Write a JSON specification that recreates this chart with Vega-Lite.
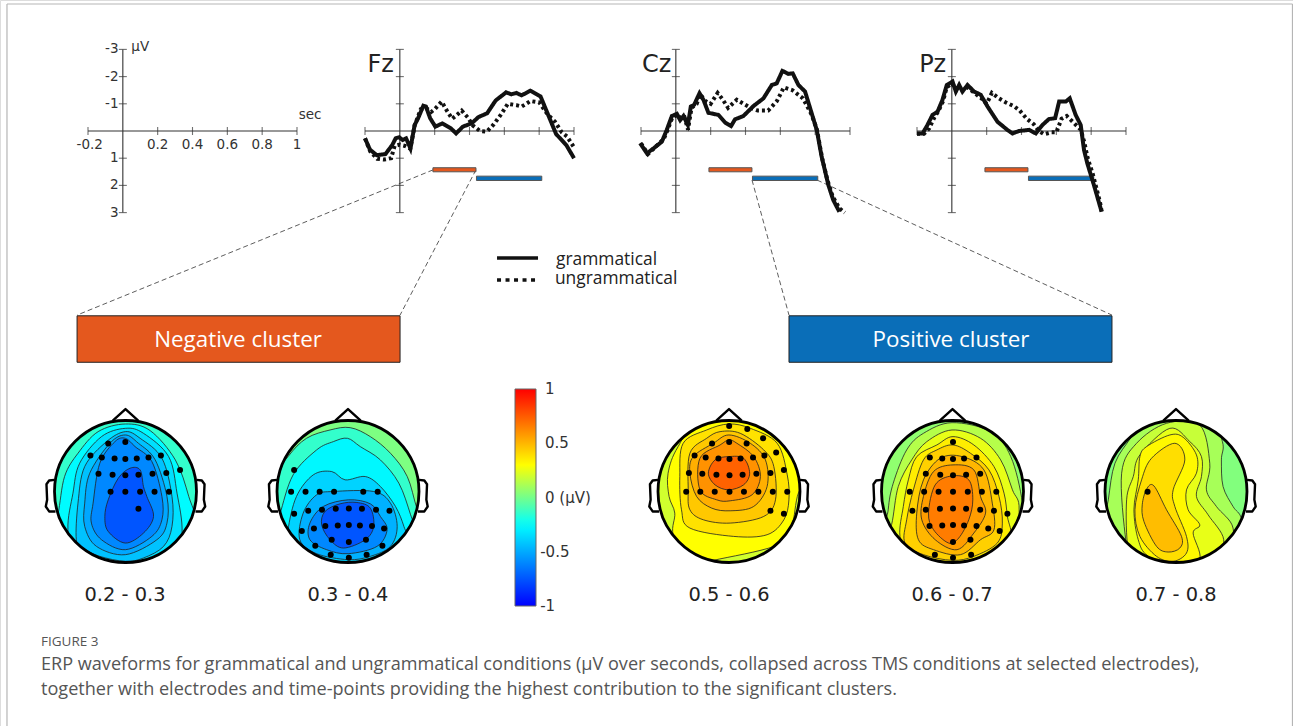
{"$schema":"https://vega.github.io/schema/vega-lite/v6.json","width":1293,"height":726,"padding":0,"autosize":{"type":"none"},"background":"white","resolve":{"scale":{"x":"independent","y":"independent"}},
"datasets":{
"frame":[{"id":"left","x":0.54,"y":0.55},{"id":"left","x":0.54,"y":100},{"id":"top","x":0.54,"y":0.55},{"id":"top","x":99.96,"y":0.55},{"id":"right","x":99.96,"y":0.55},{"id":"right","x":99.96,"y":100}],
"conn":[{"id":"a","x":33.49,"y":23.4},{"id":"a","x":5.96,"y":43.4},{"id":"b","x":36.81,"y":23.4},{"id":"b","x":30.94,"y":43.4},{"id":"c","x":58.16,"y":24.8},{"id":"c","x":61.02,"y":43.4},{"id":"d","x":63.19,"y":24.8},{"id":"d","x":86.0,"y":43.4}],
"boxes":[{"k":"negative","x":5.96,"x2":30.94,"y":43.5,"y2":49.9},{"k":"positive","x":61.02,"x2":86.0,"y":43.5,"y2":49.9}],
"boxText":[{"x":18.41,"y":46.83,"text":"Negative cluster"},{"x":73.55,"y":46.83,"text":"Positive cluster"}],
"keyG":[{"x":38.44,"y":35.54},{"x":41.61,"y":35.54}],
"keyU":[{"x":38.44,"y":38.57},{"x":41.61,"y":38.57}],
"keyText":[{"x":43.0,"y":35.8,"text":"grammatical"},{"x":42.92,"y":38.4,"text":"ungrammatical"}],
"times":[{"x":9.67,"y":81.96,"text":"0.2 - 0.3"},{"x":26.91,"y":81.96,"text":"0.3 - 0.4"},{"x":56.38,"y":81.96,"text":"0.5 - 0.6"},{"x":73.63,"y":81.96,"text":"0.6 - 0.7"},{"x":90.95,"y":81.96,"text":"0.7 - 0.8"}],
"capHead":[{"x":3.17,"y":88.43,"text":"FIGURE 3"}],
"cap":[{"x":3.17,"y":91.55,"text":"ERP waveforms for grammatical and ungrammatical conditions (µV over seconds, collapsed across TMS conditions at selected electrodes),"},{"x":3.17,"y":95.0,"text":"together with electrodes and time-points providing the highest contribution to the significant clusters."}],
"cbarL":[{"p":1.43,"val":1,"text":"1"},{"p":1.43,"val":0.5,"text":"0.5"},{"p":1.43,"val":0,"text":"0 (µV)"},{"p":1.2,"val":-0.5,"text":"-0.5"},{"p":1.2,"val":-1,"text":"-1"}],
"cbarT":[{"id":"a","p":0.7,"val":0.5},{"id":"a","p":1,"val":0.5},{"id":"b","p":0.7,"val":0},{"id":"b","p":1,"val":0},{"id":"c","p":0.7,"val":-0.5},{"id":"c","p":1,"val":-0.5}],
"axisLines":[{"a":"x","t":-0.2,"u":0},{"a":"x","t":1,"u":0},{"a":"y","t":0,"u":-3},{"a":"y","t":0,"u":3}],
"xticks":[{"t":-0.2,"u":0},{"t":0.2,"u":0},{"t":0.4,"u":0},{"t":0.6,"u":0},{"t":0.8,"u":0},{"t":1,"u":0}],
"yticks":[{"t":0,"u":-3},{"t":0,"u":-2},{"t":0,"u":-1},{"t":0,"u":1},{"t":0,"u":2},{"t":0,"u":3}],
"keyX":[{"t":-0.19,"u":0.51,"text":"-0.2"},{"t":0.2,"u":0.51,"text":"0.2"},{"t":0.4,"u":0.51,"text":"0.4"},{"t":0.6,"u":0.51,"text":"0.6"},{"t":0.8,"u":0.51,"text":"0.8"},{"t":1,"u":0.51,"text":"1"},{"t":1.075,"u":-0.59,"text":"sec"},{"t":0.1,"u":-3.09,"text":"µV"}],
"keyY":[{"t":-0.025,"u":-3,"text":"-3"},{"t":-0.025,"u":-2,"text":"-2"},{"t":-0.025,"u":-1,"text":"-1"},{"t":-0.025,"u":1,"text":"1"},{"t":-0.025,"u":2,"text":"2"},{"t":-0.025,"u":3,"text":"3"}],
"names":[{"e":"Fz","t":-0.11,"u":-2.43,"text":"Fz"},{"e":"Cz","t":-0.11,"u":-2.43,"text":"Cz"},{"e":"Pz","t":-0.11,"u":-2.43,"text":"Pz"}],
"bars":[{"k":"negative","t":0.19,"t2":0.437,"u":1.35,"u2":1.5},{"k":"positive","t":0.44,"t2":0.815,"u":1.66,"u2":1.82}],
"fz":[
{"cond":"ungram","t":-0.2,"u":0.27},{"cond":"ungram","t":-0.17,"u":0.75},{"cond":"ungram","t":-0.13,"u":1.02},{"cond":"ungram","t":-0.09,"u":1.05},{"cond":"ungram","t":-0.05,"u":1.0},{"cond":"ungram","t":-0.03,"u":0.55},{"cond":"ungram","t":0,"u":0.5},{"cond":"ungram","t":0.03,"u":0.55},{"cond":"ungram","t":0.06,"u":0.65},{"cond":"ungram","t":0.085,"u":-0.2},{"cond":"ungram","t":0.12,"u":-0.8},{"cond":"ungram","t":0.15,"u":-0.85},{"cond":"ungram","t":0.18,"u":-0.7},{"cond":"ungram","t":0.2,"u":-0.8},{"cond":"ungram","t":0.24,"u":-1.08},{"cond":"ungram","t":0.27,"u":-0.75},{"cond":"ungram","t":0.3,"u":-0.45},{"cond":"ungram","t":0.32,"u":-0.55},{"cond":"ungram","t":0.355,"u":-0.75},{"cond":"ungram","t":0.39,"u":-0.5},{"cond":"ungram","t":0.42,"u":-0.2},{"cond":"ungram","t":0.46,"u":0},{"cond":"ungram","t":0.5,"u":0.02},{"cond":"ungram","t":0.54,"u":-0.25},{"cond":"ungram","t":0.58,"u":-0.6},{"cond":"ungram","t":0.62,"u":-1.0},{"cond":"ungram","t":0.67,"u":-0.95},{"cond":"ungram","t":0.7,"u":-0.9},{"cond":"ungram","t":0.75,"u":-1.1},{"cond":"ungram","t":0.8,"u":-1.05},{"cond":"ungram","t":0.85,"u":-0.6},{"cond":"ungram","t":0.89,"u":-0.35},{"cond":"ungram","t":0.93,"u":0.05},{"cond":"ungram","t":0.96,"u":0.2},{"cond":"ungram","t":1,"u":0.6},
{"cond":"gram","t":-0.2,"u":0.27},{"cond":"gram","t":-0.172,"u":0.68},{"cond":"gram","t":-0.133,"u":0.89},{"cond":"gram","t":-0.083,"u":0.85},{"cond":"gram","t":-0.044,"u":0.52},{"cond":"gram","t":-0.024,"u":0.27},{"cond":"gram","t":-0.004,"u":0.23},{"cond":"gram","t":0.016,"u":0.33},{"cond":"gram","t":0.036,"u":0.27},{"cond":"gram","t":0.061,"u":0.64},{"cond":"gram","t":0.085,"u":-0.22},{"cond":"gram","t":0.105,"u":-0.47},{"cond":"gram","t":0.135,"u":-0.93},{"cond":"gram","t":0.15,"u":-0.9},{"cond":"gram","t":0.174,"u":-0.47},{"cond":"gram","t":0.204,"u":-0.16},{"cond":"gram","t":0.244,"u":-0.28},{"cond":"gram","t":0.293,"u":-0.1},{"cond":"gram","t":0.323,"u":0.09},{"cond":"gram","t":0.362,"u":-0.16},{"cond":"gram","t":0.412,"u":-0.28},{"cond":"gram","t":0.451,"u":-0.51},{"cond":"gram","t":0.501,"u":-0.65},{"cond":"gram","t":0.55,"u":-1.12},{"cond":"gram","t":0.61,"u":-1.42},{"cond":"gram","t":0.64,"u":-1.35},{"cond":"gram","t":0.669,"u":-1.4},{"cond":"gram","t":0.699,"u":-1.31},{"cond":"gram","t":0.749,"u":-1.48},{"cond":"gram","t":0.808,"u":-1.27},{"cond":"gram","t":0.848,"u":-0.65},{"cond":"gram","t":0.897,"u":0.11},{"cond":"gram","t":0.956,"u":0.52},{"cond":"gram","t":1,"u":1.0}],
"cz":[
{"cond":"ungram","t":-0.2,"u":0.45},{"cond":"ungram","t":-0.16,"u":0.85},{"cond":"ungram","t":-0.12,"u":0.6},{"cond":"ungram","t":-0.07,"u":0.3},{"cond":"ungram","t":-0.05,"u":0},{"cond":"ungram","t":-0.02,"u":-0.5},{"cond":"ungram","t":0.01,"u":-0.6},{"cond":"ungram","t":0.03,"u":-0.45},{"cond":"ungram","t":0.05,"u":-0.5},{"cond":"ungram","t":0.07,"u":-0.05},{"cond":"ungram","t":0.09,"u":-0.85},{"cond":"ungram","t":0.12,"u":-1.0},{"cond":"ungram","t":0.14,"u":-1.35},{"cond":"ungram","t":0.17,"u":-1.1},{"cond":"ungram","t":0.2,"u":-1.0},{"cond":"ungram","t":0.24,"u":-1.4},{"cond":"ungram","t":0.27,"u":-1.15},{"cond":"ungram","t":0.3,"u":-0.85},{"cond":"ungram","t":0.35,"u":-1.15},{"cond":"ungram","t":0.39,"u":-1.0},{"cond":"ungram","t":0.43,"u":-0.85},{"cond":"ungram","t":0.47,"u":-0.75},{"cond":"ungram","t":0.53,"u":-0.75},{"cond":"ungram","t":0.58,"u":-1.1},{"cond":"ungram","t":0.62,"u":-1.6},{"cond":"ungram","t":0.67,"u":-1.5},{"cond":"ungram","t":0.73,"u":-1.2},{"cond":"ungram","t":0.78,"u":-0.6},{"cond":"ungram","t":0.81,"u":-0.05},{"cond":"ungram","t":0.84,"u":1.0},{"cond":"ungram","t":0.87,"u":1.8},{"cond":"ungram","t":0.9,"u":2.4},{"cond":"ungram","t":0.94,"u":2.85},{"cond":"ungram","t":0.97,"u":3.0},
{"cond":"gram","t":-0.205,"u":0.45},{"cond":"gram","t":-0.166,"u":0.82},{"cond":"gram","t":-0.128,"u":0.64},{"cond":"gram","t":-0.08,"u":0.39},{"cond":"gram","t":-0.052,"u":-0.04},{"cond":"gram","t":-0.023,"u":-0.55},{"cond":"gram","t":0.006,"u":-0.63},{"cond":"gram","t":0.025,"u":-0.4},{"cond":"gram","t":0.044,"u":-0.55},{"cond":"gram","t":0.069,"u":-0.22},{"cond":"gram","t":0.086,"u":-0.9},{"cond":"gram","t":0.105,"u":-0.96},{"cond":"gram","t":0.136,"u":-1.39},{"cond":"gram","t":0.159,"u":-1.14},{"cond":"gram","t":0.187,"u":-0.67},{"cond":"gram","t":0.245,"u":-0.59},{"cond":"gram","t":0.283,"u":-0.31},{"cond":"gram","t":0.317,"u":-0.18},{"cond":"gram","t":0.34,"u":-0.43},{"cond":"gram","t":0.388,"u":-0.55},{"cond":"gram","t":0.446,"u":-0.92},{"cond":"gram","t":0.503,"u":-1.2},{"cond":"gram","t":0.551,"u":-1.69},{"cond":"gram","t":0.579,"u":-1.75},{"cond":"gram","t":0.612,"u":-2.21},{"cond":"gram","t":0.646,"u":-2.1},{"cond":"gram","t":0.671,"u":-2.12},{"cond":"gram","t":0.704,"u":-1.69},{"cond":"gram","t":0.742,"u":-1.45},{"cond":"gram","t":0.78,"u":-0.65},{"cond":"gram","t":0.809,"u":-0.04},{"cond":"gram","t":0.837,"u":0.94},{"cond":"gram","t":0.876,"u":1.99},{"cond":"gram","t":0.904,"u":2.54},{"cond":"gram","t":0.939,"u":2.97}],
"pz":[
{"cond":"ungram","t":-0.2,"u":0.1},{"cond":"ungram","t":-0.16,"u":0.1},{"cond":"ungram","t":-0.13,"u":-0.1},{"cond":"ungram","t":-0.1,"u":-0.5},{"cond":"ungram","t":-0.08,"u":-0.7},{"cond":"ungram","t":-0.05,"u":-1.1},{"cond":"ungram","t":-0.03,"u":-1.6},{"cond":"ungram","t":0,"u":-1.75},{"cond":"ungram","t":0.03,"u":-1.5},{"cond":"ungram","t":0.06,"u":-1.5},{"cond":"ungram","t":0.09,"u":-1.6},{"cond":"ungram","t":0.13,"u":-1.4},{"cond":"ungram","t":0.17,"u":-1.2},{"cond":"ungram","t":0.2,"u":-1.0},{"cond":"ungram","t":0.23,"u":-1.4},{"cond":"ungram","t":0.27,"u":-1.2},{"cond":"ungram","t":0.31,"u":-1.05},{"cond":"ungram","t":0.36,"u":-0.9},{"cond":"ungram","t":0.39,"u":-0.75},{"cond":"ungram","t":0.43,"u":-0.45},{"cond":"ungram","t":0.47,"u":-0.25},{"cond":"ungram","t":0.5,"u":0},{"cond":"ungram","t":0.53,"u":0.12},{"cond":"ungram","t":0.57,"u":0.05},{"cond":"ungram","t":0.6,"u":0.05},{"cond":"ungram","t":0.63,"u":-0.45},{"cond":"ungram","t":0.66,"u":-0.55},{"cond":"ungram","t":0.7,"u":-0.3},{"cond":"ungram","t":0.74,"u":-0.05},{"cond":"ungram","t":0.76,"u":0.4},{"cond":"ungram","t":0.78,"u":1.0},{"cond":"ungram","t":0.81,"u":1.6},{"cond":"ungram","t":0.85,"u":2.6},{"cond":"ungram","t":0.86,"u":2.95},
{"cond":"gram","t":-0.2,"u":0.09},{"cond":"gram","t":-0.168,"u":0.09},{"cond":"gram","t":-0.14,"u":-0.22},{"cond":"gram","t":-0.111,"u":-0.59},{"cond":"gram","t":-0.082,"u":-0.71},{"cond":"gram","t":-0.054,"u":-1.14},{"cond":"gram","t":-0.029,"u":-1.69},{"cond":"gram","t":0.004,"u":-1.82},{"cond":"gram","t":0.023,"u":-1.45},{"cond":"gram","t":0.042,"u":-1.69},{"cond":"gram","t":0.061,"u":-1.45},{"cond":"gram","t":0.09,"u":-1.69},{"cond":"gram","t":0.128,"u":-1.45},{"cond":"gram","t":0.166,"u":-1.33},{"cond":"gram","t":0.205,"u":-0.9},{"cond":"gram","t":0.262,"u":-0.34},{"cond":"gram","t":0.319,"u":-0.04},{"cond":"gram","t":0.348,"u":0.09},{"cond":"gram","t":0.386,"u":0},{"cond":"gram","t":0.444,"u":-0.04},{"cond":"gram","t":0.482,"u":0.09},{"cond":"gram","t":0.52,"u":-0.22},{"cond":"gram","t":0.558,"u":-0.44},{"cond":"gram","t":0.593,"u":-0.47},{"cond":"gram","t":0.616,"u":-1.08},{"cond":"gram","t":0.654,"u":-1.08},{"cond":"gram","t":0.677,"u":-1.2},{"cond":"gram","t":0.711,"u":-0.59},{"cond":"gram","t":0.74,"u":-0.22},{"cond":"gram","t":0.759,"u":0.7},{"cond":"gram","t":0.778,"u":1.19},{"cond":"gram","t":0.816,"u":1.99},{"cond":"gram","t":0.86,"u":2.97}],
"headC":[{"dx":0,"dy":0}],
"headP":[{"p":"nose","dx":-38,"dy":-213},{"p":"nose","dx":0,"dy":-248},{"p":"nose","dx":38,"dy":-213},
{"p":"earL","dx":-212,"dy":-35},{"p":"earL","dx":-228,"dy":-33},{"p":"earL","dx":-236,"dy":-22},{"p":"earL","dx":-234,"dy":25},{"p":"earL","dx":-238,"dy":45},{"p":"earL","dx":-228,"dy":60},{"p":"earL","dx":-209,"dy":60},
{"p":"earR","dx":212,"dy":-35},{"p":"earR","dx":228,"dy":-33},{"p":"earR","dx":236,"dy":-22},{"p":"earR","dx":234,"dy":25},{"p":"earR","dx":238,"dy":45},{"p":"earR","dx":228,"dy":60},{"p":"earR","dx":209,"dy":60}],
"m1":[
{"c":"0","v":-0.14,"x":16,"y":275},{"c":"0","v":-0.14,"x":86,"y":105},{"c":"0","v":-0.14,"x":256,"y":35},{"c":"0","v":-0.14,"x":426,"y":105},{"c":"0","v":-0.14,"x":496,"y":275},{"c":"0","v":-0.14,"x":426,"y":445},{"c":"0","v":-0.14,"x":256,"y":515},{"c":"0","v":-0.14,"x":86,"y":445},
{"c":"1","v":-0.26,"x":55,"y":345},{"c":"1","v":-0.26,"x":75,"y":230},{"c":"1","v":-0.26,"x":115,"y":160},{"c":"1","v":-0.26,"x":175,"y":95},{"c":"1","v":-0.26,"x":256,"y":72},{"c":"1","v":-0.26,"x":330,"y":92},{"c":"1","v":-0.26,"x":405,"y":180},{"c":"1","v":-0.26,"x":445,"y":290},{"c":"1","v":-0.26,"x":470,"y":400},{"c":"1","v":-0.26,"x":400,"y":540},{"c":"1","v":-0.26,"x":256,"y":560},{"c":"1","v":-0.26,"x":90,"y":520},{"c":"1","v":-0.26,"x":30,"y":430},
{"c":"2","v":-0.34,"x":85,"y":390},{"c":"2","v":-0.34,"x":100,"y":280},{"c":"2","v":-0.34,"x":120,"y":190},{"c":"2","v":-0.34,"x":185,"y":110},{"c":"2","v":-0.34,"x":256,"y":85},{"c":"2","v":-0.34,"x":310,"y":100},{"c":"2","v":-0.34,"x":385,"y":170},{"c":"2","v":-0.34,"x":410,"y":280},{"c":"2","v":-0.34,"x":425,"y":400},{"c":"2","v":-0.34,"x":400,"y":520},{"c":"2","v":-0.34,"x":256,"y":545},{"c":"2","v":-0.34,"x":110,"y":510},
{"c":"3","v":-0.43,"x":110,"y":420},{"c":"3","v":-0.43,"x":115,"y":310},{"c":"3","v":-0.43,"x":135,"y":200},{"c":"3","v":-0.43,"x":200,"y":125},{"c":"3","v":-0.43,"x":256,"y":95},{"c":"3","v":-0.43,"x":300,"y":115},{"c":"3","v":-0.43,"x":365,"y":175},{"c":"3","v":-0.43,"x":395,"y":290},{"c":"3","v":-0.43,"x":395,"y":380},{"c":"3","v":-0.43,"x":370,"y":440},{"c":"3","v":-0.43,"x":310,"y":475},{"c":"3","v":-0.43,"x":256,"y":485},{"c":"3","v":-0.43,"x":180,"y":470},{"c":"3","v":-0.43,"x":130,"y":445},
{"c":"4","v":-0.51,"x":135,"y":380},{"c":"4","v":-0.51,"x":135,"y":310},{"c":"4","v":-0.51,"x":150,"y":220},{"c":"4","v":-0.51,"x":210,"y":130},{"c":"4","v":-0.51,"x":256,"y":105},{"c":"4","v":-0.51,"x":295,"y":130},{"c":"4","v":-0.51,"x":345,"y":180},{"c":"4","v":-0.51,"x":380,"y":290},{"c":"4","v":-0.51,"x":380,"y":370},{"c":"4","v":-0.51,"x":350,"y":420},{"c":"4","v":-0.51,"x":256,"y":465},{"c":"4","v":-0.51,"x":170,"y":440},
{"c":"5","v":-0.6,"x":155,"y":370},{"c":"5","v":-0.6,"x":160,"y":310},{"c":"5","v":-0.6,"x":180,"y":190},{"c":"5","v":-0.6,"x":225,"y":125},{"c":"5","v":-0.6,"x":256,"y":115},{"c":"5","v":-0.6,"x":285,"y":140},{"c":"5","v":-0.6,"x":335,"y":185},{"c":"5","v":-0.6,"x":365,"y":290},{"c":"5","v":-0.6,"x":365,"y":360},{"c":"5","v":-0.6,"x":335,"y":410},{"c":"5","v":-0.6,"x":256,"y":450},{"c":"5","v":-0.6,"x":185,"y":420},
{"c":"6","v":-0.75,"x":235,"y":235},{"c":"6","v":-0.75,"x":270,"y":205},{"c":"6","v":-0.75,"x":300,"y":210},{"c":"6","v":-0.75,"x":310,"y":260},{"c":"6","v":-0.75,"x":320,"y":290},{"c":"6","v":-0.75,"x":340,"y":350},{"c":"6","v":-0.75,"x":310,"y":400},{"c":"6","v":-0.75,"x":256,"y":430},{"c":"6","v":-0.75,"x":205,"y":395},{"c":"6","v":-0.75,"x":195,"y":350},{"c":"6","v":-0.75,"x":205,"y":300}],
"e1":[{"x":205,"y":131},{"x":256,"y":126},{"x":152,"y":167},{"x":186,"y":173},{"x":224,"y":176},{"x":256,"y":177},{"x":290,"y":176},{"x":325,"y":173},{"x":362,"y":167},{"x":176,"y":222},{"x":218,"y":225},{"x":256,"y":226},{"x":295,"y":225},{"x":337,"y":222},{"x":378,"y":219},{"x":419,"y":210},{"x":212,"y":276},{"x":256,"y":276},{"x":300,"y":276},{"x":343,"y":276},{"x":386,"y":276},{"x":295,"y":327}],
"m2":[
{"c":"0","v":0.02,"x":683,"y":275},{"c":"0","v":0.02,"x":753,"y":105},{"c":"0","v":0.02,"x":923,"y":35},{"c":"0","v":0.02,"x":1093,"y":105},{"c":"0","v":0.02,"x":1163,"y":275},{"c":"0","v":0.02,"x":1093,"y":445},{"c":"0","v":0.02,"x":923,"y":515},{"c":"0","v":0.02,"x":753,"y":445},
{"c":"1","v":-0.14,"x":745,"y":170},{"c":"1","v":-0.14,"x":800,"y":115},{"c":"1","v":-0.14,"x":870,"y":90},{"c":"1","v":-0.14,"x":930,"y":83},{"c":"1","v":-0.14,"x":990,"y":110},{"c":"1","v":-0.14,"x":1050,"y":160},{"c":"1","v":-0.14,"x":1100,"y":230},{"c":"1","v":-0.14,"x":1130,"y":330},{"c":"1","v":-0.14,"x":1170,"y":440},{"c":"1","v":-0.14,"x":924,"y":545},{"c":"1","v":-0.14,"x":700,"y":420},{"c":"1","v":-0.14,"x":690,"y":260},
{"c":"2","v":-0.27,"x":720,"y":345},{"c":"2","v":-0.27,"x":760,"y":225},{"c":"2","v":-0.27,"x":830,"y":150},{"c":"2","v":-0.27,"x":880,"y":125},{"c":"2","v":-0.27,"x":922,"y":115},{"c":"2","v":-0.27,"x":960,"y":140},{"c":"2","v":-0.27,"x":1020,"y":180},{"c":"2","v":-0.27,"x":1075,"y":250},{"c":"2","v":-0.27,"x":1110,"y":345},{"c":"2","v":-0.27,"x":1130,"y":420},{"c":"2","v":-0.27,"x":1090,"y":510},{"c":"2","v":-0.27,"x":924,"y":550},{"c":"2","v":-0.27,"x":740,"y":490},{"c":"2","v":-0.27,"x":700,"y":410},
{"c":"3","v":-0.38,"x":745,"y":390},{"c":"3","v":-0.38,"x":770,"y":290},{"c":"3","v":-0.38,"x":820,"y":225},{"c":"3","v":-0.38,"x":875,"y":215},{"c":"3","v":-0.38,"x":915,"y":240},{"c":"3","v":-0.38,"x":975,"y":230},{"c":"3","v":-0.38,"x":1020,"y":260},{"c":"3","v":-0.38,"x":1065,"y":320},{"c":"3","v":-0.38,"x":1090,"y":380},{"c":"3","v":-0.38,"x":1100,"y":430},{"c":"3","v":-0.38,"x":1040,"y":500},{"c":"3","v":-0.38,"x":924,"y":530},{"c":"3","v":-0.38,"x":800,"y":500},{"c":"3","v":-0.38,"x":750,"y":440},
{"c":"4","v":-0.48,"x":780,"y":420},{"c":"4","v":-0.48,"x":790,"y":340},{"c":"4","v":-0.48,"x":830,"y":285},{"c":"4","v":-0.48,"x":880,"y":275},{"c":"4","v":-0.48,"x":1000,"y":275},{"c":"4","v":-0.48,"x":1050,"y":310},{"c":"4","v":-0.48,"x":1070,"y":380},{"c":"4","v":-0.48,"x":1050,"y":440},{"c":"4","v":-0.48,"x":990,"y":470},{"c":"4","v":-0.48,"x":924,"y":480},{"c":"4","v":-0.48,"x":830,"y":462},
{"c":"5","v":-0.6,"x":810,"y":420},{"c":"5","v":-0.6,"x":810,"y":370},{"c":"5","v":-0.6,"x":850,"y":320},{"c":"5","v":-0.6,"x":925,"y":300},{"c":"5","v":-0.6,"x":990,"y":312},{"c":"5","v":-0.6,"x":1020,"y":350},{"c":"5","v":-0.6,"x":1040,"y":390},{"c":"5","v":-0.6,"x":1010,"y":440},{"c":"5","v":-0.6,"x":924,"y":462},{"c":"5","v":-0.6,"x":860,"y":450},
{"c":"6","v":-0.75,"x":845,"y":375},{"c":"6","v":-0.75,"x":855,"y":335},{"c":"6","v":-0.75,"x":900,"y":312},{"c":"6","v":-0.75,"x":950,"y":308},{"c":"6","v":-0.75,"x":990,"y":325},{"c":"6","v":-0.75,"x":1000,"y":380},{"c":"6","v":-0.75,"x":975,"y":420},{"c":"6","v":-0.75,"x":910,"y":445},{"c":"6","v":-0.75,"x":870,"y":420}],
"e2":[{"x":763,"y":210},{"x":754,"y":276},{"x":797,"y":276},{"x":839,"y":276},{"x":882,"y":276},{"x":969,"y":276},{"x":1012,"y":276},{"x":763,"y":342},{"x":805,"y":333},{"x":846,"y":330},{"x":887,"y":327},{"x":926,"y":326},{"x":965,"y":327},{"x":1007,"y":330},{"x":1047,"y":333},{"x":786,"y":394},{"x":822,"y":386},{"x":856,"y":379},{"x":893,"y":377},{"x":926,"y":376},{"x":959,"y":377},{"x":995,"y":379},{"x":1031,"y":386},{"x":875,"y":420},{"x":926,"y":427},{"x":977,"y":420},{"x":826,"y":438},{"x":1026,"y":438},{"x":872,"y":465},{"x":926,"y":474},{"x":979,"y":465}],
"m3":[
{"c":"0","v":0.2,"x":26,"y":275},{"c":"0","v":0.2,"x":96,"y":105},{"c":"0","v":0.2,"x":266,"y":35},{"c":"0","v":0.2,"x":436,"y":105},{"c":"0","v":0.2,"x":506,"y":275},{"c":"0","v":0.2,"x":436,"y":445},{"c":"0","v":0.2,"x":266,"y":515},{"c":"0","v":0.2,"x":96,"y":445},
{"c":"1","v":0.3,"x":115,"y":140},{"c":"1","v":0.3,"x":85,"y":220},{"c":"1","v":0.3,"x":88,"y":290},{"c":"1","v":0.3,"x":105,"y":340},{"c":"1","v":0.3,"x":100,"y":405},{"c":"1","v":0.3,"x":140,"y":500},{"c":"1","v":0.3,"x":220,"y":482},{"c":"1","v":0.3,"x":400,"y":440},{"c":"1","v":0.3,"x":450,"y":390},{"c":"1","v":0.3,"x":470,"y":290},{"c":"1","v":0.3,"x":500,"y":180},{"c":"1","v":0.3,"x":400,"y":30},{"c":"1","v":0.3,"x":200,"y":30},
{"c":"2","v":0.38,"x":200,"y":90},{"c":"2","v":0.38,"x":130,"y":130},{"c":"2","v":0.38,"x":120,"y":230},{"c":"2","v":0.38,"x":125,"y":330},{"c":"2","v":0.38,"x":150,"y":385},{"c":"2","v":0.38,"x":280,"y":410},{"c":"2","v":0.38,"x":380,"y":405},{"c":"2","v":0.38,"x":430,"y":360},{"c":"2","v":0.38,"x":445,"y":300},{"c":"2","v":0.38,"x":440,"y":225},{"c":"2","v":0.38,"x":410,"y":130},{"c":"2","v":0.38,"x":330,"y":85},{"c":"2","v":0.38,"x":266,"y":72},
{"c":"3","v":0.45,"x":150,"y":160},{"c":"3","v":0.45,"x":145,"y":270},{"c":"3","v":0.45,"x":150,"y":330},{"c":"3","v":0.45,"x":190,"y":360},{"c":"3","v":0.45,"x":270,"y":370},{"c":"3","v":0.45,"x":370,"y":350},{"c":"3","v":0.45,"x":405,"y":300},{"c":"3","v":0.45,"x":400,"y":200},{"c":"3","v":0.45,"x":370,"y":150},{"c":"3","v":0.45,"x":300,"y":100},{"c":"3","v":0.45,"x":240,"y":95},{"c":"3","v":0.45,"x":200,"y":115},
{"c":"4","v":0.52,"x":160,"y":170},{"c":"4","v":0.52,"x":150,"y":220},{"c":"4","v":0.52,"x":170,"y":290},{"c":"4","v":0.52,"x":215,"y":325},{"c":"4","v":0.52,"x":270,"y":333},{"c":"4","v":0.52,"x":340,"y":320},{"c":"4","v":0.52,"x":380,"y":260},{"c":"4","v":0.52,"x":375,"y":180},{"c":"4","v":0.52,"x":330,"y":130},{"c":"4","v":0.52,"x":266,"y":105},{"c":"4","v":0.52,"x":220,"y":130},
{"c":"5","v":0.6,"x":180,"y":175},{"c":"5","v":0.6,"x":180,"y":270},{"c":"5","v":0.6,"x":230,"y":300},{"c":"5","v":0.6,"x":270,"y":303},{"c":"5","v":0.6,"x":335,"y":285},{"c":"5","v":0.6,"x":360,"y":230},{"c":"5","v":0.6,"x":340,"y":170},{"c":"5","v":0.6,"x":290,"y":130},{"c":"5","v":0.6,"x":266,"y":120},{"c":"5","v":0.6,"x":240,"y":135},
{"c":"6","v":0.73,"x":205,"y":220},{"c":"6","v":0.73,"x":225,"y":180},{"c":"6","v":0.73,"x":266,"y":170},{"c":"6","v":0.73,"x":310,"y":175},{"c":"6","v":0.73,"x":328,"y":220},{"c":"6","v":0.73,"x":310,"y":255},{"c":"6","v":0.73,"x":265,"y":270},{"c":"6","v":0.73,"x":225,"y":255}],
"e3":[{"x":267,"y":78},{"x":321,"y":87},{"x":368,"y":115},{"x":407,"y":158},{"x":430,"y":210},{"x":440,"y":276},{"x":430,"y":342},{"x":216,"y":131},{"x":267,"y":126},{"x":319,"y":131},{"x":372,"y":167},{"x":164,"y":167},{"x":197,"y":173},{"x":235,"y":176},{"x":268,"y":177},{"x":301,"y":176},{"x":338,"y":173},{"x":147,"y":219},{"x":187,"y":222},{"x":229,"y":225},{"x":268,"y":226},{"x":307,"y":225},{"x":348,"y":222},{"x":390,"y":219},{"x":139,"y":276},{"x":181,"y":276},{"x":224,"y":276},{"x":268,"y":276},{"x":311,"y":276},{"x":354,"y":276},{"x":397,"y":276},{"x":390,"y":333}],
"m4":[
{"c":"0","v":0.06,"x":696,"y":275},{"c":"0","v":0.06,"x":766,"y":105},{"c":"0","v":0.06,"x":936,"y":35},{"c":"0","v":0.06,"x":1106,"y":105},{"c":"0","v":0.06,"x":1176,"y":275},{"c":"0","v":0.06,"x":1106,"y":445},{"c":"0","v":0.06,"x":936,"y":515},{"c":"0","v":0.06,"x":766,"y":445},
{"c":"1","v":0.14,"x":745,"y":330},{"c":"1","v":0.14,"x":760,"y":250},{"c":"1","v":0.14,"x":800,"y":150},{"c":"1","v":0.14,"x":850,"y":100},{"c":"1","v":0.14,"x":935,"y":68},{"c":"1","v":0.14,"x":1050,"y":95},{"c":"1","v":0.14,"x":1110,"y":170},{"c":"1","v":0.14,"x":1145,"y":310},{"c":"1","v":0.14,"x":1150,"y":440},{"c":"1","v":0.14,"x":936,"y":550},{"c":"1","v":0.14,"x":740,"y":450},
{"c":"2","v":0.25,"x":755,"y":375},{"c":"2","v":0.25,"x":775,"y":260},{"c":"2","v":0.25,"x":815,"y":180},{"c":"2","v":0.25,"x":860,"y":125},{"c":"2","v":0.25,"x":935,"y":90},{"c":"2","v":0.25,"x":1020,"y":115},{"c":"2","v":0.25,"x":1080,"y":180},{"c":"2","v":0.25,"x":1115,"y":270},{"c":"2","v":0.25,"x":1135,"y":330},{"c":"2","v":0.25,"x":1110,"y":500},{"c":"2","v":0.25,"x":936,"y":545},{"c":"2","v":0.25,"x":770,"y":500},{"c":"2","v":0.25,"x":730,"y":440},
{"c":"3","v":0.35,"x":780,"y":410},{"c":"3","v":0.35,"x":790,"y":320},{"c":"3","v":0.35,"x":805,"y":240},{"c":"3","v":0.35,"x":830,"y":170},{"c":"3","v":0.35,"x":890,"y":135},{"c":"3","v":0.35,"x":938,"y":110},{"c":"3","v":0.35,"x":1000,"y":135},{"c":"3","v":0.35,"x":1060,"y":200},{"c":"3","v":0.35,"x":1090,"y":280},{"c":"3","v":0.35,"x":1100,"y":350},{"c":"3","v":0.35,"x":1110,"y":420},{"c":"3","v":0.35,"x":1060,"y":510},{"c":"3","v":0.35,"x":936,"y":540},{"c":"3","v":0.35,"x":810,"y":490},
{"c":"4","v":0.43,"x":795,"y":430},{"c":"4","v":0.43,"x":800,"y":360},{"c":"4","v":0.43,"x":820,"y":270},{"c":"4","v":0.43,"x":850,"y":180},{"c":"4","v":0.43,"x":890,"y":150},{"c":"4","v":0.43,"x":938,"y":135},{"c":"4","v":0.43,"x":990,"y":160},{"c":"4","v":0.43,"x":1045,"y":210},{"c":"4","v":0.43,"x":1075,"y":290},{"c":"4","v":0.43,"x":1085,"y":370},{"c":"4","v":0.43,"x":1070,"y":430},{"c":"4","v":0.43,"x":1000,"y":470},{"c":"4","v":0.43,"x":936,"y":482},{"c":"4","v":0.43,"x":850,"y":465},
{"c":"5","v":0.5,"x":835,"y":420},{"c":"5","v":0.5,"x":830,"y":340},{"c":"5","v":0.5,"x":850,"y":240},{"c":"5","v":0.5,"x":900,"y":175},{"c":"5","v":0.5,"x":965,"y":170},{"c":"5","v":0.5,"x":1030,"y":210},{"c":"5","v":0.5,"x":1055,"y":310},{"c":"5","v":0.5,"x":1060,"y":390},{"c":"5","v":0.5,"x":1020,"y":420},{"c":"5","v":0.5,"x":960,"y":465},{"c":"5","v":0.5,"x":880,"y":450},
{"c":"6","v":0.57,"x":845,"y":360},{"c":"6","v":0.57,"x":850,"y":290},{"c":"6","v":0.57,"x":880,"y":215},{"c":"6","v":0.57,"x":938,"y":195},{"c":"6","v":0.57,"x":1000,"y":210},{"c":"6","v":0.57,"x":1020,"y":290},{"c":"6","v":0.57,"x":1035,"y":340},{"c":"6","v":0.57,"x":1000,"y":400},{"c":"6","v":0.57,"x":950,"y":450},{"c":"6","v":0.57,"x":885,"y":420},
{"c":"7","v":0.66,"x":865,"y":340},{"c":"7","v":0.66,"x":885,"y":255},{"c":"7","v":0.66,"x":935,"y":228},{"c":"7","v":0.66,"x":985,"y":240},{"c":"7","v":0.66,"x":997,"y":300},{"c":"7","v":0.66,"x":985,"y":360},{"c":"7","v":0.66,"x":955,"y":415},{"c":"7","v":0.66,"x":925,"y":430},{"c":"7","v":0.66,"x":880,"y":390}],
"e4":[{"x":938,"y":126},{"x":869,"y":173},{"x":906,"y":176},{"x":938,"y":177},{"x":971,"y":176},{"x":1008,"y":173},{"x":857,"y":222},{"x":900,"y":225},{"x":938,"y":226},{"x":977,"y":225},{"x":1019,"y":222},{"x":809,"y":276},{"x":852,"y":276},{"x":895,"y":276},{"x":938,"y":276},{"x":982,"y":276},{"x":1024,"y":276},{"x":1067,"y":276},{"x":817,"y":333},{"x":857,"y":330},{"x":899,"y":327},{"x":938,"y":326},{"x":977,"y":327},{"x":1019,"y":330},{"x":1060,"y":333},{"x":1100,"y":342},{"x":868,"y":379},{"x":906,"y":377},{"x":938,"y":376},{"x":971,"y":377},{"x":1008,"y":379},{"x":1043,"y":386},{"x":1077,"y":394},{"x":938,"y":427},{"x":990,"y":420},{"x":884,"y":465},{"x":938,"y":474},{"x":992,"y":465}],
"m5":[
{"c":"0","v":0.03,"x":288,"y":275},{"c":"0","v":0.03,"x":358,"y":105},{"c":"0","v":0.03,"x":528,"y":35},{"c":"0","v":0.03,"x":698,"y":105},{"c":"0","v":0.03,"x":768,"y":275},{"c":"0","v":0.03,"x":698,"y":445},{"c":"0","v":0.03,"x":528,"y":515},{"c":"0","v":0.03,"x":358,"y":445},
{"c":"1","v":0.11,"x":395,"y":110},{"c":"1","v":0.11,"x":345,"y":190},{"c":"1","v":0.11,"x":325,"y":300},{"c":"1","v":0.11,"x":310,"y":420},{"c":"1","v":0.11,"x":420,"y":540},{"c":"1","v":0.11,"x":740,"y":440},{"c":"1","v":0.11,"x":725,"y":355},{"c":"1","v":0.11,"x":700,"y":320},{"c":"1","v":0.11,"x":670,"y":260},{"c":"1","v":0.11,"x":665,"y":180},{"c":"1","v":0.11,"x":668,"y":125},{"c":"1","v":0.11,"x":620,"y":30},{"c":"1","v":0.11,"x":450,"y":30},
{"c":"2","v":0.18,"x":378,"y":425},{"c":"2","v":0.18,"x":365,"y":220},{"c":"2","v":0.18,"x":410,"y":130},{"c":"2","v":0.18,"x":500,"y":70},{"c":"2","v":0.18,"x":600,"y":75},{"c":"2","v":0.18,"x":630,"y":190},{"c":"2","v":0.18,"x":620,"y":270},{"c":"2","v":0.18,"x":650,"y":320},{"c":"2","v":0.18,"x":700,"y":385},{"c":"2","v":0.18,"x":680,"y":480},{"c":"2","v":0.18,"x":528,"y":540},{"c":"2","v":0.18,"x":400,"y":500},
{"c":"3","v":0.25,"x":385,"y":450},{"c":"3","v":0.25,"x":380,"y":300},{"c":"3","v":0.25,"x":400,"y":230},{"c":"3","v":0.25,"x":420,"y":165},{"c":"3","v":0.25,"x":510,"y":85},{"c":"3","v":0.25,"x":570,"y":125},{"c":"3","v":0.25,"x":605,"y":170},{"c":"3","v":0.25,"x":605,"y":230},{"c":"3","v":0.25,"x":590,"y":290},{"c":"3","v":0.25,"x":625,"y":345},{"c":"3","v":0.25,"x":672,"y":420},{"c":"3","v":0.25,"x":640,"y":490},{"c":"3","v":0.25,"x":528,"y":530},{"c":"3","v":0.25,"x":420,"y":500},
{"c":"4","v":0.32,"x":402,"y":330},{"c":"4","v":0.32,"x":415,"y":240},{"c":"4","v":0.32,"x":420,"y":170},{"c":"4","v":0.32,"x":440,"y":140},{"c":"4","v":0.32,"x":510,"y":105},{"c":"4","v":0.32,"x":550,"y":112},{"c":"4","v":0.32,"x":590,"y":165},{"c":"4","v":0.32,"x":590,"y":220},{"c":"4","v":0.32,"x":560,"y":270},{"c":"4","v":0.32,"x":565,"y":330},{"c":"4","v":0.32,"x":600,"y":375},{"c":"4","v":0.32,"x":580,"y":400},{"c":"4","v":0.32,"x":600,"y":478},{"c":"4","v":0.32,"x":540,"y":520},{"c":"4","v":0.32,"x":445,"y":470},{"c":"4","v":0.32,"x":415,"y":420},
{"c":"5","v":0.39,"x":520,"y":485},{"c":"5","v":0.39,"x":560,"y":460},{"c":"5","v":0.39,"x":560,"y":410},{"c":"5","v":0.39,"x":525,"y":320},{"c":"5","v":0.39,"x":520,"y":270},{"c":"5","v":0.39,"x":555,"y":180},{"c":"5","v":0.39,"x":525,"y":130},{"c":"5","v":0.39,"x":455,"y":175},{"c":"5","v":0.39,"x":425,"y":240},{"c":"5","v":0.39,"x":405,"y":330},{"c":"5","v":0.39,"x":420,"y":410},{"c":"5","v":0.39,"x":470,"y":470},
{"c":"6","v":0.48,"x":427,"y":315},{"c":"6","v":0.48,"x":440,"y":268},{"c":"6","v":0.48,"x":462,"y":258},{"c":"6","v":0.48,"x":500,"y":330},{"c":"6","v":0.48,"x":545,"y":410},{"c":"6","v":0.48,"x":540,"y":445},{"c":"6","v":0.48,"x":505,"y":457},{"c":"6","v":0.48,"x":470,"y":440},{"c":"6","v":0.48,"x":432,"y":365}],
"e5":[{"x":443,"y":276}]
},
"layer":[
{"encoding":{"x":{"field":"x","type":"quantitative","axis":null,"scale":{"domain":[0,100],"range":[0,1293]}},"y":{"field":"y","type":"quantitative","axis":null,"scale":{"domain":[0,100],"range":[0,726]}}},
"layer":[
{"data":{"name":"frame"},"mark":{"type":"line","stroke":"#b5b5b5","strokeWidth":1.2,"order":false},"encoding":{"detail":{"field":"id"}}},
{"data":{"name":"conn"},"mark":{"type":"line","stroke":"#333","strokeWidth":0.8,"strokeDash":[5,3],"order":false},"encoding":{"detail":{"field":"id"}}},
{"data":{"name":"boxes"},"mark":{"type":"rect","stroke":"#222","strokeWidth":1},"encoding":{"x2":{"field":"x2"},"y2":{"field":"y2"},"color":{"field":"k","type":"nominal","legend":null,"scale":{"domain":["negative","positive"],"range":["#E4581E","#0A6EB8"]}}}},
{"data":{"name":"boxText"},"mark":{"type":"text","font":"Open Sans","fontSize":22.4,"color":"white","baseline":"middle"},"encoding":{"text":{"field":"text"}}},
{"data":{"name":"keyG"},"mark":{"type":"line","stroke":"#111","strokeWidth":3.5},"encoding":{}},
{"data":{"name":"keyU"},"mark":{"type":"line","stroke":"#111","strokeWidth":3.5,"strokeDash":[4,4.5]},"encoding":{}},
{"data":{"name":"keyText"},"mark":{"type":"text","font":"Open Sans","fontSize":17.4,"color":"#222","align":"left","baseline":"middle"},"encoding":{"text":{"field":"text"}}},
{"data":{"name":"capHead"},"mark":{"type":"text","font":"Open Sans","fontSize":13.5,"color":"#555","align":"left","baseline":"middle"},"encoding":{"text":{"field":"text"}}},
{"data":{"name":"cap"},"mark":{"type":"text","font":"Open Sans","fontSize":18.1,"color":"#555","align":"left","baseline":"middle"},"encoding":{"text":{"field":"text"}}}
]},
{"encoding":{"x":{"field":"p","type":"quantitative","axis":null,"scale":{"domain":[0,1],"range":[515,536]}},"y":{"field":"val","type":"quantitative","axis":null,"scale":{"domain":[-1,1],"range":[606,389]}}},
"layer":[
{"data":{"name":"cbarL"},"mark":{"type":"text","font":"DejaVu Sans","fontSize":15,"color":"#333","align":"left","baseline":"middle"},"encoding":{"text":{"field":"text"}}}
]},
{"encoding":{"x":{"field":"t","type":"quantitative","axis":null,"scale":{"domain":[-0.2,1],"range":[88,297]}},"y":{"field":"u","type":"quantitative","axis":null,"scale":{"domain":[-3,3],"range":[49.4,212.6]}}},
"layer":[
{"data":{"name":"axisLines"},"mark":{"type":"line","stroke":"#333","strokeWidth":1.1,"order":false},"encoding":{"detail":{"field":"a"}}},
{"data":{"name":"xticks"},"mark":{"type":"tick","orient":"vertical","color":"#333","size":8,"thickness":1.1},"encoding":{}},
{"data":{"name":"yticks"},"mark":{"type":"tick","orient":"horizontal","color":"#333","size":8,"thickness":1.1},"encoding":{}},
{"data":{"name":"keyX"},"mark":{"type":"text","font":"DejaVu Sans","fontSize":13.5,"color":"#333","baseline":"middle"},"encoding":{"text":{"field":"text"}}},
{"data":{"name":"keyY"},"mark":{"type":"text","font":"DejaVu Sans","fontSize":13.5,"color":"#333","align":"right","baseline":"middle"},"encoding":{"text":{"field":"text"}}}
]},
{"encoding":{"x":{"field":"t","type":"quantitative","axis":null,"scale":{"domain":[-0.2,1],"range":[365,574]}},"y":{"field":"u","type":"quantitative","axis":null,"scale":{"domain":[-3,3],"range":[49.4,212.6]}}},
"layer":[
{"data":{"name":"axisLines"},"mark":{"type":"line","stroke":"#333","strokeWidth":1.1,"order":false},"encoding":{"detail":{"field":"a"}}},
{"data":{"name":"xticks"},"mark":{"type":"tick","orient":"vertical","color":"#333","size":8,"thickness":1.1},"encoding":{}},
{"data":{"name":"yticks"},"mark":{"type":"tick","orient":"horizontal","color":"#333","size":8,"thickness":1.1},"encoding":{}},
{"data":{"name":"names"},"transform":[{"filter":"datum.e=='Fz'"}],"mark":{"type":"text","font":"DejaVu Sans","fontSize":24,"color":"#222","baseline":"middle"},"encoding":{"text":{"field":"text"}}},
{"data":{"name":"bars"},"mark":{"type":"rect","stroke":"#555","strokeWidth":1},"encoding":{"x2":{"field":"t2"},"y2":{"field":"u2"},"color":{"field":"k","type":"nominal","legend":null}}},
{"data":{"name":"fz"},"mark":{"type":"line","stroke":"#111","strokeWidth":4},"encoding":{"strokeDash":{"field":"cond","type":"nominal","legend":null,"scale":{"domain":["gram","ungram"],"range":[[1,0],[3,3]]}}}}
]},
{"encoding":{"x":{"field":"t","type":"quantitative","axis":null,"scale":{"domain":[-0.2,1],"range":[641,850]}},"y":{"field":"u","type":"quantitative","axis":null,"scale":{"domain":[-3,3],"range":[49.4,212.6]}}},
"layer":[
{"data":{"name":"axisLines"},"mark":{"type":"line","stroke":"#333","strokeWidth":1.1,"order":false},"encoding":{"detail":{"field":"a"}}},
{"data":{"name":"xticks"},"mark":{"type":"tick","orient":"vertical","color":"#333","size":8,"thickness":1.1},"encoding":{}},
{"data":{"name":"yticks"},"mark":{"type":"tick","orient":"horizontal","color":"#333","size":8,"thickness":1.1},"encoding":{}},
{"data":{"name":"names"},"transform":[{"filter":"datum.e=='Cz'"}],"mark":{"type":"text","font":"DejaVu Sans","fontSize":24,"color":"#222","baseline":"middle"},"encoding":{"text":{"field":"text"}}},
{"data":{"name":"bars"},"mark":{"type":"rect","stroke":"#555","strokeWidth":1},"encoding":{"x2":{"field":"t2"},"y2":{"field":"u2"},"color":{"field":"k","type":"nominal","legend":null}}},
{"data":{"name":"cz"},"mark":{"type":"line","stroke":"#111","strokeWidth":4},"encoding":{"strokeDash":{"field":"cond","type":"nominal","legend":null}}}
]},
{"encoding":{"x":{"field":"t","type":"quantitative","axis":null,"scale":{"domain":[-0.2,1],"range":[917,1126]}},"y":{"field":"u","type":"quantitative","axis":null,"scale":{"domain":[-3,3],"range":[49.4,212.6]}}},
"layer":[
{"data":{"name":"axisLines"},"mark":{"type":"line","stroke":"#333","strokeWidth":1.1,"order":false},"encoding":{"detail":{"field":"a"}}},
{"data":{"name":"xticks"},"mark":{"type":"tick","orient":"vertical","color":"#333","size":8,"thickness":1.1},"encoding":{}},
{"data":{"name":"yticks"},"mark":{"type":"tick","orient":"horizontal","color":"#333","size":8,"thickness":1.1},"encoding":{}},
{"data":{"name":"names"},"transform":[{"filter":"datum.e=='Pz'"}],"mark":{"type":"text","font":"DejaVu Sans","fontSize":24,"color":"#222","baseline":"middle"},"encoding":{"text":{"field":"text"}}},
{"data":{"name":"bars"},"mark":{"type":"rect","stroke":"#555","strokeWidth":1},"encoding":{"x2":{"field":"t2"},"y2":{"field":"u2"},"color":{"field":"k","type":"nominal","legend":null}}},
{"data":{"name":"pz"},"mark":{"type":"line","stroke":"#111","strokeWidth":4},"encoding":{"strokeDash":{"field":"cond","type":"nominal","legend":null}}}
]},
{"encoding":{"x":{"field":"x","type":"quantitative","axis":null,"scale":{"domain":[45,468],"range":[54.5,196.5]}},"y":{"field":"y","type":"quantitative","axis":null,"scale":{"domain":[60,490],"range":[420,563]}}},
"layer":[
{"data":{"name":"m1"},"mark":{"type":"line","interpolate":"cardinal-closed","stroke":"#222","strokeWidth":0.8,"order":false},"encoding":{"detail":{"field":"c"},"fill":{"field":"v","type":"quantitative","title":null,"scale":{"domain":[-1,-0.25,0.3,1],"range":["#0000ff","#00ffff","#ffff00","#ff0000"],"interpolate":"rgb"},"legend":{"orient":"none","legendX":515,"legendY":389,"direction":"vertical","gradientLength":217,"gradientThickness":21,"gradientStrokeColor":"#666","gradientStrokeWidth":1,"values":[-0.5,0,0.5],"labelExpr":"''","labelOpacity":0,"labelFontSize":1}}}},
{"data":{"name":"e1"},"mark":{"type":"point","filled":true,"color":"black","size":36,"opacity":1},"encoding":{}}
]},
{"encoding":{"x":{"field":"dx","type":"quantitative","axis":null,"scale":{"domain":[-212,212],"range":[54.5,196.5]}},"y":{"field":"dy","type":"quantitative","axis":null,"scale":{"domain":[-215,215],"range":[420,563]}}},
"layer":[
{"data":{"name":"headC"},"mark":{"type":"point","stroke":"white","strokeWidth":40,"size":33124,"opacity":1},"encoding":{}},
{"data":{"name":"headC"},"mark":{"type":"point","stroke":"black","strokeWidth":2.8,"size":20164,"opacity":1},"encoding":{}},
{"data":{"name":"headP"},"mark":{"type":"line","stroke":"black","strokeWidth":2.4,"strokeJoin":"round","order":false},"encoding":{"detail":{"field":"p"}}}
]},
{"encoding":{"x":{"field":"x","type":"quantitative","axis":null,"scale":{"domain":[712,1135],"range":[277,419]}},"y":{"field":"y","type":"quantitative","axis":null,"scale":{"domain":[60,490],"range":[420,563]}}},
"layer":[
{"data":{"name":"m2"},"mark":{"type":"line","interpolate":"cardinal-closed","stroke":"#222","strokeWidth":0.8,"order":false},"encoding":{"detail":{"field":"c"},"fill":{"field":"v","type":"quantitative","title":null}}},
{"data":{"name":"e2"},"mark":{"type":"point","filled":true,"color":"black","size":36,"opacity":1},"encoding":{}}
]},
{"encoding":{"x":{"field":"dx","type":"quantitative","axis":null,"scale":{"domain":[-212,212],"range":[277,419]}},"y":{"field":"dy","type":"quantitative","axis":null,"scale":{"domain":[-215,215],"range":[420,563]}}},
"layer":[
{"data":{"name":"headC"},"mark":{"type":"point","stroke":"white","strokeWidth":40,"size":33124,"opacity":1},"encoding":{}},
{"data":{"name":"headC"},"mark":{"type":"point","stroke":"black","strokeWidth":2.8,"size":20164,"opacity":1},"encoding":{}},
{"data":{"name":"headP"},"mark":{"type":"line","stroke":"black","strokeWidth":2.4,"strokeJoin":"round","order":false},"encoding":{"detail":{"field":"p"}}}
]},
{"encoding":{"x":{"field":"x","type":"quantitative","axis":null,"scale":{"domain":[55,478],"range":[658,800]}},"y":{"field":"y","type":"quantitative","axis":null,"scale":{"domain":[60,490],"range":[420,563]}}},
"layer":[
{"data":{"name":"m3"},"mark":{"type":"line","interpolate":"cardinal-closed","stroke":"#222","strokeWidth":0.8,"order":false},"encoding":{"detail":{"field":"c"},"fill":{"field":"v","type":"quantitative","title":null}}},
{"data":{"name":"e3"},"mark":{"type":"point","filled":true,"color":"black","size":36,"opacity":1},"encoding":{}}
]},
{"encoding":{"x":{"field":"dx","type":"quantitative","axis":null,"scale":{"domain":[-212,212],"range":[658,800]}},"y":{"field":"dy","type":"quantitative","axis":null,"scale":{"domain":[-215,215],"range":[420,563]}}},
"layer":[
{"data":{"name":"headC"},"mark":{"type":"point","stroke":"white","strokeWidth":40,"size":33124,"opacity":1},"encoding":{}},
{"data":{"name":"headC"},"mark":{"type":"point","stroke":"black","strokeWidth":2.8,"size":20164,"opacity":1},"encoding":{}},
{"data":{"name":"headP"},"mark":{"type":"line","stroke":"black","strokeWidth":2.4,"strokeJoin":"round","order":false},"encoding":{"detail":{"field":"p"}}}
]},
{"encoding":{"x":{"field":"x","type":"quantitative","axis":null,"scale":{"domain":[725,1148],"range":[881.5,1023.5]}},"y":{"field":"y","type":"quantitative","axis":null,"scale":{"domain":[60,490],"range":[420,563]}}},
"layer":[
{"data":{"name":"m4"},"mark":{"type":"line","interpolate":"cardinal-closed","stroke":"#222","strokeWidth":0.8,"order":false},"encoding":{"detail":{"field":"c"},"fill":{"field":"v","type":"quantitative","title":null}}},
{"data":{"name":"e4"},"mark":{"type":"point","filled":true,"color":"black","size":36,"opacity":1},"encoding":{}}
]},
{"encoding":{"x":{"field":"dx","type":"quantitative","axis":null,"scale":{"domain":[-212,212],"range":[881.5,1023.5]}},"y":{"field":"dy","type":"quantitative","axis":null,"scale":{"domain":[-215,215],"range":[420,563]}}},
"layer":[
{"data":{"name":"headC"},"mark":{"type":"point","stroke":"white","strokeWidth":40,"size":33124,"opacity":1},"encoding":{}},
{"data":{"name":"headC"},"mark":{"type":"point","stroke":"black","strokeWidth":2.8,"size":20164,"opacity":1},"encoding":{}},
{"data":{"name":"headP"},"mark":{"type":"line","stroke":"black","strokeWidth":2.4,"strokeJoin":"round","order":false},"encoding":{"detail":{"field":"p"}}}
]},
{"encoding":{"x":{"field":"x","type":"quantitative","axis":null,"scale":{"domain":[315,742],"range":[1105,1247]}},"y":{"field":"y","type":"quantitative","axis":null,"scale":{"domain":[60,490],"range":[420,563]}}},
"layer":[
{"data":{"name":"m5"},"mark":{"type":"line","interpolate":"cardinal-closed","stroke":"#222","strokeWidth":0.8,"order":false},"encoding":{"detail":{"field":"c"},"fill":{"field":"v","type":"quantitative","title":null}}},
{"data":{"name":"e5"},"mark":{"type":"point","filled":true,"color":"black","size":36,"opacity":1},"encoding":{}}
]},
{"encoding":{"x":{"field":"dx","type":"quantitative","axis":null,"scale":{"domain":[-212,212],"range":[1105,1247]}},"y":{"field":"dy","type":"quantitative","axis":null,"scale":{"domain":[-215,215],"range":[420,563]}}},
"layer":[
{"data":{"name":"headC"},"mark":{"type":"point","stroke":"white","strokeWidth":40,"size":33124,"opacity":1},"encoding":{}},
{"data":{"name":"headC"},"mark":{"type":"point","stroke":"black","strokeWidth":2.8,"size":20164,"opacity":1},"encoding":{}},
{"data":{"name":"headP"},"mark":{"type":"line","stroke":"black","strokeWidth":2.4,"strokeJoin":"round","order":false},"encoding":{"detail":{"field":"p"}}}
]},
{"data":{"name":"times"},"mark":{"type":"text","font":"DejaVu Sans","fontSize":19.4,"color":"#222","baseline":"middle"},"encoding":{"x":{"field":"x","type":"quantitative","axis":null,"scale":{"domain":[0,100],"range":[0,1293]}},"y":{"field":"y","type":"quantitative","axis":null,"scale":{"domain":[0,100],"range":[0,726]}},"text":{"field":"text"}}}
]}
